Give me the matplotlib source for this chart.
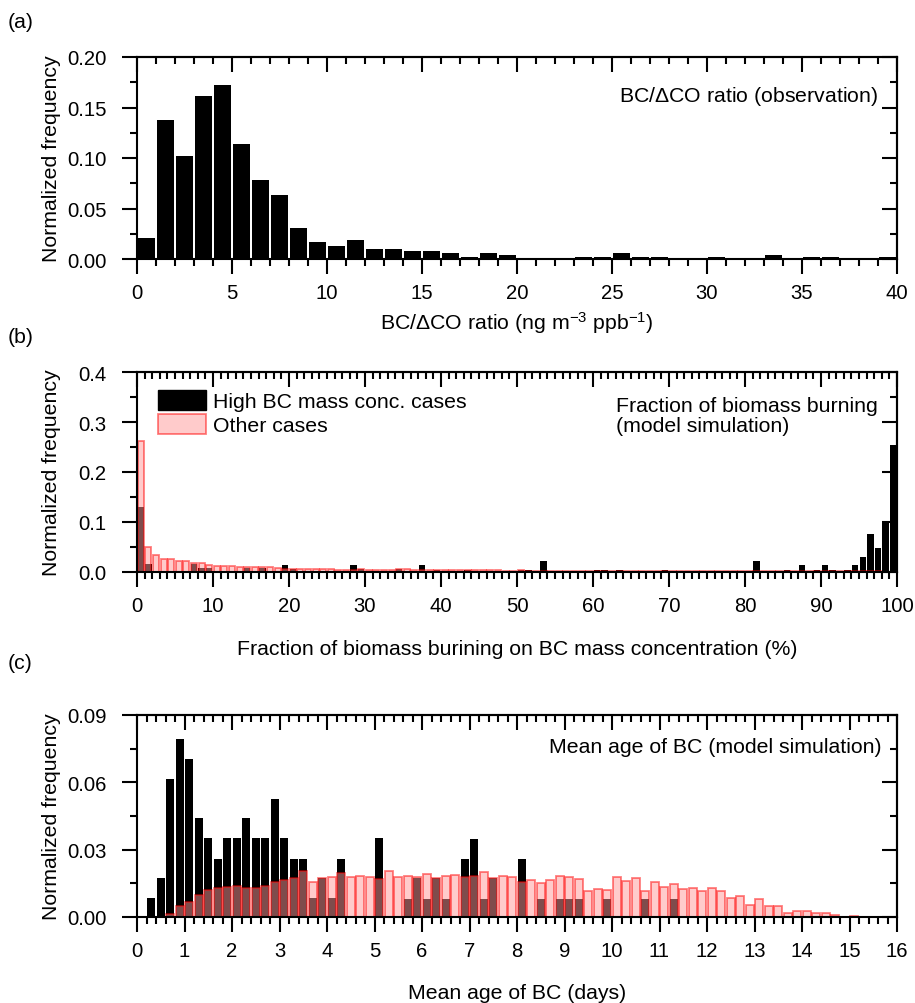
import numpy as np
import matplotlib
matplotlib.use("Agg")
import matplotlib.pyplot as plt
from matplotlib.ticker import MultipleLocator, FormatStrFormatter
from matplotlib.patches import Patch

plt.rcParams['font.family'] = ['Liberation Sans', 'DejaVu Sans']
plt.rcParams['mathtext.fontset'] = 'custom'
plt.rcParams['mathtext.rm'] = 'Liberation Sans'
plt.rcParams['mathtext.it'] = 'Liberation Sans:italic'
plt.rcParams['font.size'] = 15.3
plt.rcParams['xtick.labelsize'] = 14.6
plt.rcParams['ytick.labelsize'] = 14.6

# (a) BC/dCO ratio, bins of 1 from 0 to 40
ratio_bins = np.arange(0, 40, 1.0)
ratio_obs = [0.0205, 0.138, 0.102, 0.161, 0.172, 0.114, 0.078, 0.0635, 0.031, 0.0169,
             0.0132, 0.0185, 0.0096, 0.0096, 0.0079, 0.0079, 0.0063, 0.0023, 0.0063, 0.0037,
             0, 0, 0, 0.0017, 0.0017, 0.0057, 0.0017, 0.0017, 0, 0,
             0.0017, 0, 0, 0.004, 0, 0.0017, 0.0017, 0, 0, 0.0017]

# (b) fraction of biomass burning, bins of 1 %
frac_bins = np.arange(0, 100, 1.0)
frac_high = [0.131, 0.0167, 0, 0, 0, 0, 0, 0.017, 0.008, 0.008,
             0, 0, 0, 0, 0.008, 0, 0.008, 0, 0, 0.015,
             0.007, 0, 0, 0, 0, 0, 0, 0, 0.015, 0.007,
             0, 0, 0, 0, 0.007, 0, 0, 0.014, 0, 0.005,
             0, 0, 0, 0.005, 0, 0, 0, 0, 0, 0,
             0.005, 0.005, 0, 0.023, 0, 0, 0, 0, 0, 0,
             0.005, 0.005, 0, 0.005, 0, 0, 0, 0, 0, 0.005,
             0, 0, 0, 0, 0, 0, 0, 0, 0, 0,
             0, 0.023, 0, 0, 0, 0.005, 0, 0.014, 0, 0.005,
             0.014, 0.005, 0, 0.005, 0.014, 0.031, 0.077, 0.049, 0.100, 0.254]
frac_other = [0.263, 0.050, 0.035, 0.027, 0.027, 0.023, 0.022, 0.018, 0.018, 0.015,
              0.013, 0.013, 0.012, 0.010, 0.010, 0.011, 0.011, 0.011, 0.008, 0.007,
              0.006, 0.006, 0.006, 0.006, 0.006, 0.006, 0.005, 0.005, 0.005, 0.006,
              0.005, 0.005, 0.005, 0.005, 0.006, 0.006, 0.005, 0.005, 0.004, 0.005,
              0.004, 0.004, 0.004, 0.004, 0.005, 0.004, 0.004, 0.004, 0.003, 0.003,
              0.004, 0.003, 0.003, 0.003, 0.003, 0.003, 0.003, 0.003, 0.003, 0.003,
              0.003, 0.003, 0.003, 0.003, 0.003, 0.003, 0.003, 0.003, 0.003, 0.003,
              0.003, 0.002, 0.003, 0.003, 0.002, 0.003, 0.003, 0.002, 0.003, 0.002,
              0.002, 0.003, 0.002, 0.002, 0.002, 0.002, 0.002, 0.002, 0.002, 0.002,
              0.002, 0.002, 0.002, 0.002, 0.002, 0.002, 0.002, 0.002, 0.001, 0.001]

# (c) mean age of BC, bins of 0.2 day centred at 0.1 ... 15.9
age_centers = np.arange(0.1, 16.0, 0.2)
age_high = [0, 0.0085, 0.0173, 0.0616, 0.0793, 0.0703, 0.044, 0.035, 0.026, 0.035,
            0.035, 0.044, 0.035, 0.035, 0.0527, 0.035, 0.026, 0.026, 0.0085, 0.0173,
            0.0085, 0.026, 0, 0, 0, 0.035, 0, 0, 0.0081, 0.0172,
            0.0081, 0.0172, 0.008, 0, 0.0257, 0.0346, 0.008, 0.0172, 0, 0,
            0.0257, 0, 0.008, 0, 0.008, 0.008, 0.008, 0, 0, 0.008,
            0, 0, 0, 0.008, 0, 0, 0.008, 0, 0, 0,
            0, 0, 0, 0, 0, 0, 0, 0, 0, 0,
            0, 0, 0, 0, 0, 0, 0, 0, 0, 0]
age_other = [0, 0, 0, 0.0015, 0.0048, 0.0069, 0.0096, 0.0121, 0.0128, 0.0134,
             0.0137, 0.0127, 0.0131, 0.014, 0.0157, 0.0164, 0.0172, 0.0203, 0.0157, 0.0172,
             0.0179, 0.0194, 0.018, 0.0184, 0.0176, 0.0169, 0.0207, 0.0179, 0.0182, 0.018,
             0.019, 0.0172, 0.0184, 0.0188, 0.018, 0.0184, 0.020, 0.0172, 0.0184, 0.0179,
             0.0157, 0.0163, 0.0151, 0.0166, 0.0184, 0.018, 0.0169, 0.0115, 0.0125, 0.0122,
             0.018, 0.016, 0.0172, 0.0115, 0.0155, 0.0133, 0.0146, 0.0124, 0.0128, 0.0116,
             0.0127, 0.0116, 0.0084, 0.0093, 0.0054, 0.0079, 0.0048, 0.0048, 0.0019, 0.0027,
             0.0027, 0.0019, 0.0019, 0.0007, 0, 0.0006, 0, 0, 0, 0]

pink_face = (1.0, 0.6, 0.6, 0.5)
pink_edge = (1.0, 0.0, 0.0, 0.5)
LW = 1.5


def style_axes(ax, xmaj, xmin, ymaj, ymin, yfmt):
    for s in ax.spines.values():
        s.set_linewidth(LW)
    ax.xaxis.set_major_locator(MultipleLocator(xmaj))
    ax.xaxis.set_minor_locator(MultipleLocator(xmin))
    ax.yaxis.set_major_locator(MultipleLocator(ymaj))
    ax.yaxis.set_minor_locator(MultipleLocator(ymin))
    ax.yaxis.set_major_formatter(FormatStrFormatter(yfmt))
    ax.tick_params(which='both', direction='out', width=LW, top=False, right=False)
    ax.tick_params(which='major', length=10.5)
    ax.tick_params(which='minor', length=5)
    ax.tick_params(axis='x', which='major', pad=7)
    ax.tick_params(axis='y', which='major', pad=11.5)
    # mirrored ticks pointing inward on top and right
    top = ax.secondary_xaxis('top')
    top.xaxis.set_major_locator(MultipleLocator(xmaj))
    top.xaxis.set_minor_locator(MultipleLocator(xmin))
    top.tick_params(which='both', direction='in', width=LW, labeltop=False)
    top.tick_params(which='major', length=10.5)
    top.tick_params(which='minor', length=5)
    right = ax.secondary_yaxis('right')
    right.yaxis.set_major_locator(MultipleLocator(ymaj))
    right.yaxis.set_minor_locator(MultipleLocator(ymin))
    right.tick_params(which='both', direction='in', width=LW, labelright=False)
    right.tick_params(which='major', length=10.5)
    right.tick_params(which='minor', length=5)
    for sec in (top, right):
        for s in sec.spines.values():
            s.set_linewidth(LW)
    ax.set_ylabel('Normalized frequency')
    ax.yaxis.set_label_coords(-0.1, 0.5)


fig = plt.figure(figsize=(9.15, 10.04), dpi=100)
left, width = 137 / 915, 760 / 915

# ---- (a)
ax1 = fig.add_axes([left, 1 - 260 / 1004, width, 202 / 1004])
ax1.bar(ratio_bins + 0.5, ratio_obs, width=0.88, color='black', edgecolor='none')
ax1.set_xlim(0, 40)
ax1.set_ylim(0, 0.2)
style_axes(ax1, 5, 1, 0.05, 0.025, '%.2f')
ax1.set_xlabel('BC/$\\Delta$CO ratio (ng m$^{-3}$ ppb$^{-1}$)', labelpad=5)
ax1.text(0.975, 0.81, 'BC/$\\Delta$CO ratio (observation)', transform=ax1.transAxes,
         ha='right', va='center')

# ---- (b)
ax2 = fig.add_axes([left, 1 - 573 / 1004, width, 200 / 1004])
ax2.bar(frac_bins + 0.5, frac_high, width=0.85, color='black', edgecolor='none')
ax2.bar(frac_bins + 0.5, frac_other, width=0.8, facecolor=pink_face, edgecolor=pink_edge,
        linewidth=1.3)
ax2.set_xlim(0, 100)
ax2.set_ylim(0, 0.4)
style_axes(ax2, 10, 1, 0.1, 0.05, '%.1f')
ax2.set_xlabel('Fraction of biomass burining on BC mass concentration (%)', labelpad=17)
ax2.text(0.63, 0.7825, 'Fraction of biomass burning\n(model simulation)',
         transform=ax2.transAxes, ha='left', va='center', linespacing=1.05)
handles = [Patch(facecolor='black', edgecolor='black'),
           Patch(facecolor=pink_face, edgecolor=pink_edge, linewidth=1.3)]
ax2.legend(handles, ['High BC mass conc. cases', 'Other cases'], loc='upper left',
           bbox_to_anchor=(0.0276, 0.91), frameon=False, borderpad=0, borderaxespad=0,
           handlelength=2.25, handleheight=1.1, handletextpad=0.33, labelspacing=0.12)

# ---- (c)
ax3 = fig.add_axes([left, 1 - 918 / 1004, width, 202 / 1004])
ax3.bar(age_centers, age_high, width=0.16, color='black', edgecolor='none')
ax3.bar(age_centers, age_other, width=0.16, facecolor=pink_face, edgecolor=pink_edge,
        linewidth=1.3)
ax3.set_xlim(0, 16)
ax3.set_ylim(0, 0.09)
style_axes(ax3, 1, 0.2, 0.03, 0.015, '%.2f')
ax3.set_xlabel('Mean age of BC (days)', labelpad=16)
ax3.text(0.98, 0.846, 'Mean age of BC (model simulation)', transform=ax3.transAxes,
         ha='right', va='center')

for lab, ypix in (('(a)', 23), ('(b)', 338), ('(c)', 664)):
    fig.text(8 / 915, 1 - ypix / 1004, lab, ha='left', va='center')

fig.savefig('out.png', dpi=100)
